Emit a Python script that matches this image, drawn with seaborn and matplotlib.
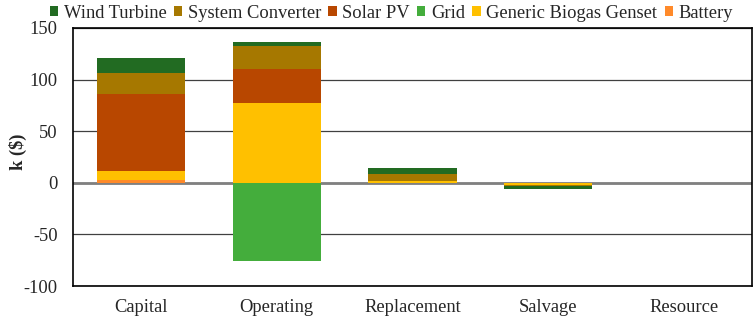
import numpy as np
import pandas as pd
import matplotlib
matplotlib.use('Agg')
import matplotlib.pyplot as plt
import seaborn as sns
from matplotlib.patches import Patch

# Datos (k$) por categoria de coste
categories = ['Capital', 'Operating', 'Replacement', 'Salvage', 'Resource']
battery = [2.5, 0.0, 0.0, -0.3, 0.0]
genset = [8.5, 77.0, 1.5, -1.8, 0.0]
grid = [0.0, -75.5, 0.0, 0.0, 0.0]
solar_pv = [75.5, 33.5, 0.0, 0.0, 0.0]
converter = [19.5, 22.5, 7.5, -0.8, 0.0]
wind = [15.0, 3.3, 5.5, -3.5, 0.0]

# orden de apilado (de abajo hacia arriba)
series_names = ['Battery', 'Generic Biogas Genset', 'Grid', 'Solar PV',
                'System Converter', 'Wind Turbine']
series_vals = [battery, genset, grid, solar_pv, converter, wind]
colors = {'Wind Turbine': '#226B22', 'System Converter': '#A67800',
          'Solar PV': '#B84700', 'Grid': '#44AD3C',
          'Generic Biogas Genset': '#FFC000', 'Battery': '#FF8A2A'}
legend_order = ['Wind Turbine', 'System Converter', 'Solar PV', 'Grid',
                'Generic Biogas Genset', 'Battery']

sns.set_style('white')
plt.rcParams['font.family'] = ['Liberation Serif', 'DejaVu Serif']
plt.rcParams['font.size'] = 13.3
plt.rcParams['axes.unicode_minus'] = False

vals = np.array(series_vals, dtype=float)
pos_cum = np.cumsum(np.clip(vals, 0, None), axis=0)
neg_cum = np.cumsum(np.clip(vals, None, 0), axis=0)

fig = plt.figure(figsize=(7.54, 3.18), dpi=100)
ax = fig.add_axes([0.0968, 0.1006, 0.9005, 0.8114])

# barras apiladas: se dibuja la suma acumulada de arriba hacia abajo
for i in range(len(series_names) - 1, -1, -1):
    name = series_names[i]
    df = pd.DataFrame({'cat': categories, 'pos': pos_cum[i], 'neg': neg_cum[i]})
    sns.barplot(data=df, x='cat', y='pos', order=categories, color=colors[name],
                saturation=1, width=0.65, errorbar=None, linewidth=0, ax=ax, zorder=2)
    sns.barplot(data=df, x='cat', y='neg', order=categories, color=colors[name],
                saturation=1, width=0.65, errorbar=None, linewidth=0, ax=ax, zorder=2)

ax.set_ylim(-100, 150)
ax.set_yticks([-100, -50, 0, 50, 100, 150])
ax.set_xlim(-0.5, 4.5)
ax.yaxis.grid(True, color='#404040', linewidth=0.9)
ax.set_axisbelow(True)
ax.axhline(0, color='#808080', linewidth=2, zorder=1.5)

ax.set_xticks([0.5, 1.5, 2.5, 3.5], minor=True)
ax.tick_params(axis='x', which='minor', direction='in', length=5, width=0.8, color='#404040')
ax.tick_params(axis='x', which='major', length=0, pad=9)
ax.tick_params(axis='y', length=0, pad=11)
for s in ax.spines.values():
    s.set_visible(True)
    s.set_color('black')
    s.set_linewidth(1.2)

ax.set_xlabel('')
ax.set_ylabel('k ($)', fontweight='bold', va='center')
ax.yaxis.set_label_coords(-0.081, 0.52)

handles = [Patch(facecolor=colors[n], edgecolor='none', label=n) for n in legend_order]
fig.legend(handles=handles, loc='center', bbox_to_anchor=(0.519, 0.958), ncol=6,
           frameon=False, handlelength=0.45, handleheight=0.45, handletextpad=0.3,
           columnspacing=0.4, borderaxespad=0, borderpad=0,
           prop={'family': 'Liberation Serif', 'size': 13.3})

fig.savefig('out.png', dpi=100)
